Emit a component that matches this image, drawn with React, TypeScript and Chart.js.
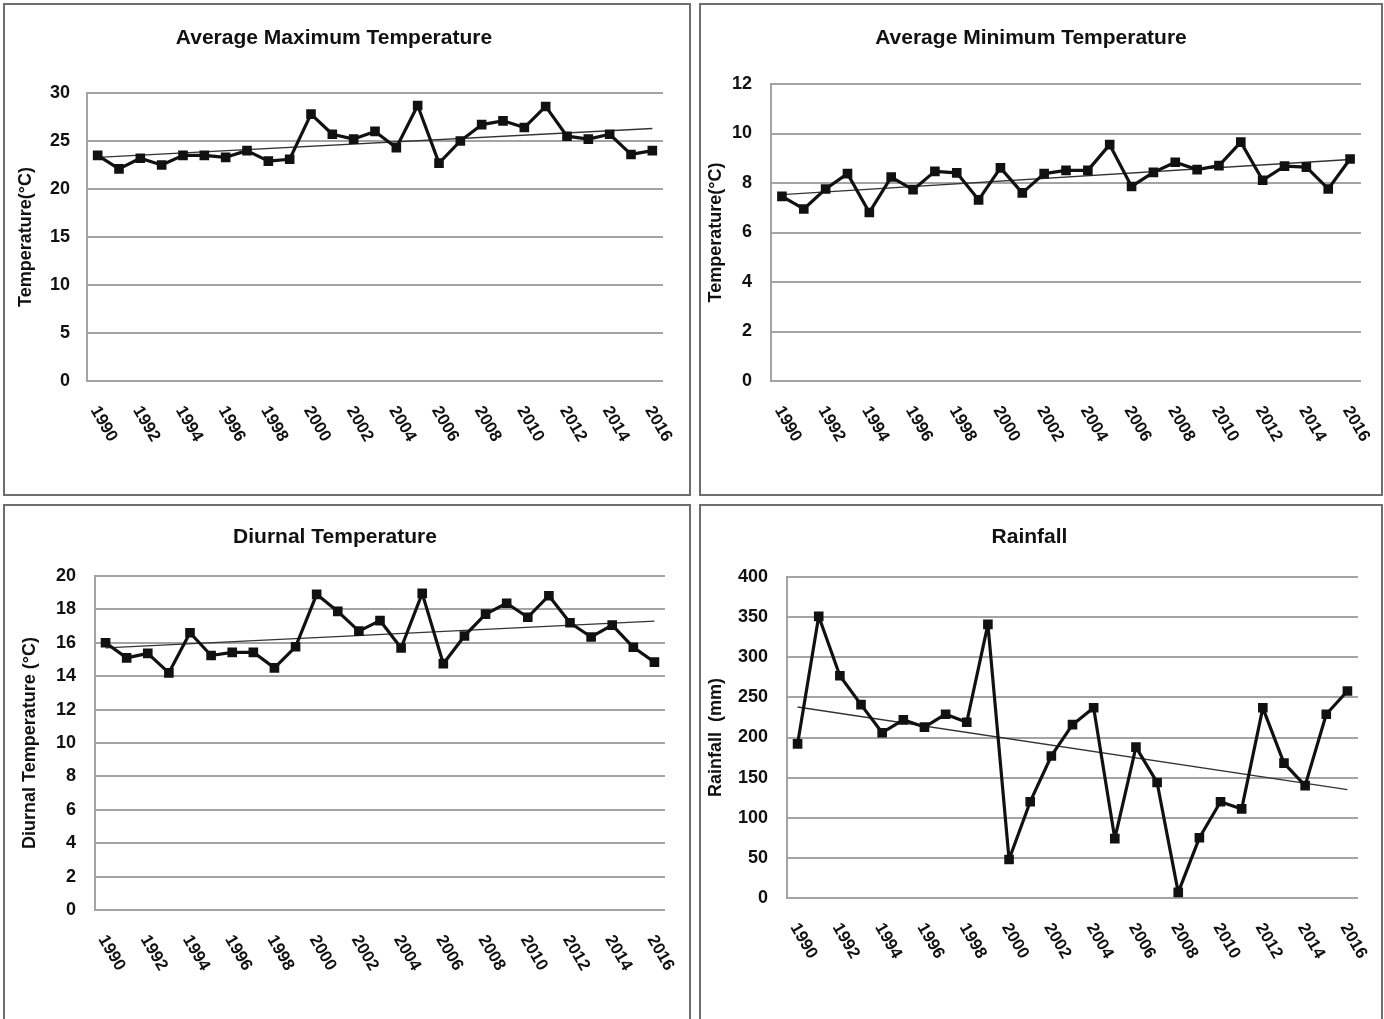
import { useEffect, useRef } from "react";
import { Chart, registerables } from "chart.js";

Chart.register(...registerables);

const years = [
  "1990", "1991", "1992", "1993", "1994", "1995", "1996", "1997", "1998",
  "1999", "2000", "2001", "2002", "2003", "2004", "2005", "2006", "2007",
  "2008", "2009", "2010", "2011", "2012", "2013", "2014", "2015", "2016",
];

const maxTemp = [
  23.5, 22.1, 23.2, 22.5, 23.5, 23.5, 23.3, 24.0, 22.9, 23.1, 27.8, 25.7, 25.2, 26.0,
  24.3, 28.7, 22.7, 25.0, 26.7, 27.1, 26.4, 28.6, 25.5, 25.2, 25.7, 23.6, 24.0,
];
const maxTrend = [23.3, 26.3];

const minTemp = [
  7.46, 6.95, 7.76, 8.38, 6.81, 8.24, 7.73, 8.47, 8.41, 7.32, 8.61, 7.6, 8.38, 8.51,
  8.51, 9.55, 7.86, 8.43, 8.84, 8.54, 8.7, 9.65, 8.11, 8.68, 8.64, 7.76, 8.97,
];
const minTrend = [7.53, 8.95];

const diurnal = [
  16.0, 15.1, 15.37, 14.2, 16.6, 15.24, 15.43, 15.43, 14.5, 15.76, 18.9, 17.88, 16.7,
  17.33, 15.69, 18.96, 14.75, 16.41, 17.72, 18.37, 17.53, 18.82, 17.2, 16.35, 17.06,
  15.73, 14.84,
];
const diurnalTrend = [15.7, 17.3];

const rainfall = [
  192, 351, 277, 241, 206, 222, 213, 229, 219, 341, 48, 120, 177, 216, 237, 74, 188,
  144, 7, 75, 120, 111, 237, 168, 140, 229, 258,
];
const rainTrend = [238, 135];

const FAMILY = '"Liberation Sans", Arial, sans-serif';
const GRID = "#a4a4a4";
const INK = "#111111";

type PanelCfg = {
  title: string;
  yTitle: string;
  data: number[];
  trend: number[];
  yMin: number;
  yMax: number;
  yStep: number;
  box: { left: number; top: number; w: number; h: number };
  yW: number;
  padR: number;
  xH: number;
  titlePad: { top: number; bottom: number };
  yTitlePad: number;
  tickPad: number;
};

const panels: PanelCfg[] = [
  {
    title: "Average Maximum Temperature",
    yTitle: "Temperature(°C)",
    data: maxTemp,
    trend: maxTrend,
    yMin: 0, yMax: 30, yStep: 5,
    box: { left: 3, top: 3, w: 688, h: 493 },
    yW: 82, padR: 26, xH: 113,
    titlePad: { top: 20.4, bottom: 42.4 },
    yTitlePad: 10.2, tickPad: 17,
  },
  {
    title: "Average Minimum Temperature",
    yTitle: "Temperature(°C)",
    data: minTemp,
    trend: minTrend,
    yMin: 0, yMax: 12, yStep: 2,
    box: { left: 699, top: 3, w: 684, h: 493 },
    yW: 70, padR: 20, xH: 113,
    titlePad: { top: 20.4, bottom: 33.4 },
    yTitlePad: 4.2, tickPad: 19,
  },
  {
    title: "Diurnal Temperature",
    yTitle: "Diurnal Temperature (°C)",
    data: diurnal,
    trend: diurnalTrend,
    yMin: 0, yMax: 20, yStep: 2,
    box: { left: 3, top: 504, w: 688, h: 520 },
    yW: 90, padR: 24, xH: 112,
    titlePad: { top: 18.4, bottom: 26.4 },
    yTitlePad: 14.2, tickPad: 19,
  },
  {
    title: "Rainfall",
    yTitle: "Rainfall  (mm)",
    data: rainfall,
    trend: rainTrend,
    yMin: 0, yMax: 400, yStep: 50,
    box: { left: 699, top: 504, w: 684, h: 520 },
    yW: 86, padR: 23, xH: 124,
    titlePad: { top: 18.4, bottom: 27.4 },
    yTitlePad: 4.2, tickPad: 19,
  },
];

const rotatedXLabels = {
  id: "rotatedXLabels",
  afterDraw(chart: any) {
    const { ctx, chartArea, scales } = chart;
    const xs = scales.x;
    ctx.save();
    ctx.font = `bold 17px ${FAMILY}`;
    ctx.fillStyle = INK;
    ctx.textAlign = "center";
    ctx.textBaseline = "middle";
    years.forEach((lab, i) => {
      if (i % 2 !== 0) return;
      const x = xs.getPixelForValue(i);
      ctx.save();
      ctx.translate(x + 6, chartArea.bottom + 43);
      ctx.rotate(Math.PI / 3);
      ctx.fillText(lab, 0, 0);
      ctx.restore();
    });
    ctx.restore();
  },
};

function Panel({ cfg }: { cfg: PanelCfg }) {
  const ref = useRef<HTMLCanvasElement | null>(null);
  const cw = cfg.box.w - 4;
  const ch = cfg.box.h - 4;

  useEffect(() => {
    if (!ref.current) return;
    const last = years.length - 1;
    const trendData = years.map((_, i) =>
      i === 0 ? cfg.trend[0] : i === last ? cfg.trend[1] : null
    );
    const chart = new Chart(ref.current, {
      type: "line",
      data: {
        labels: years,
        datasets: [
          {
            data: cfg.data,
            borderColor: INK,
            backgroundColor: INK,
            borderWidth: 3.2,
            borderJoinStyle: "bevel",
            pointStyle: "rect",
            pointRadius: 6.8,
            pointBorderWidth: 0,
            pointBackgroundColor: INK,
            tension: 0,
          },
          {
            data: trendData,
            borderColor: "#333",
            borderWidth: 1.3,
            pointRadius: 0,
            spanGaps: true,
            tension: 0,
          },
        ],
      },
      options: {
        responsive: false,
        animation: false,
        devicePixelRatio: 1,
        layout: { padding: { left: 0, right: cfg.padR, top: 0, bottom: 0 } },
        plugins: {
          legend: { display: false },
          tooltip: { enabled: false },
          title: {
            display: true,
            text: cfg.title,
            color: INK,
            font: { size: 21, weight: "bold", family: FAMILY },
            padding: cfg.titlePad,
          },
        },
        scales: {
          x: {
            type: "category",
            offset: true,
            grid: { display: false },
            border: { display: false },
            ticks: { display: false },
            afterFit: (s: any) => {
              s.height = cfg.xH;
            },
          },
          y: {
            min: cfg.yMin,
            max: cfg.yMax,
            ticks: {
              stepSize: cfg.yStep,
              padding: cfg.tickPad,
              color: INK,
              font: { size: 18, weight: "bold", family: FAMILY },
            },
            grid: { color: GRID, lineWidth: 2, drawTicks: false },
            border: { display: true, color: GRID, width: 2 },
            title: {
              display: true,
              text: cfg.yTitle,
              color: INK,
              font: { size: 18, weight: "bold", family: FAMILY },
              padding: { top: cfg.yTitlePad, bottom: 0 },
            },
            afterFit: (s: any) => {
              s.width = cfg.yW;
            },
          },
        },
      },
      plugins: [rotatedXLabels],
    } as any);
    return () => chart.destroy();
  }, [cfg]);

  return (
    <div
      style={{
        position: "absolute",
        left: cfg.box.left,
        top: cfg.box.top,
        width: cfg.box.w,
        height: cfg.box.h,
        boxSizing: "border-box",
        border: "2px solid #6e6e6e",
        background: "#fff",
        overflow: "hidden",
      }}
    >
      <canvas
        ref={ref}
        width={cw}
        height={ch}
        style={{ display: "block", width: cw, height: ch }}
      />
    </div>
  );
}

export default function App() {
  return (
    <div
      style={{
        position: "fixed",
        left: 0,
        top: 0,
        width: 1384,
        height: 1019,
        overflow: "hidden",
        background: "#fff",
      }}
    >
      {panels.map((p) => (
        <Panel key={p.title} cfg={p} />
      ))}
    </div>
  );
}
